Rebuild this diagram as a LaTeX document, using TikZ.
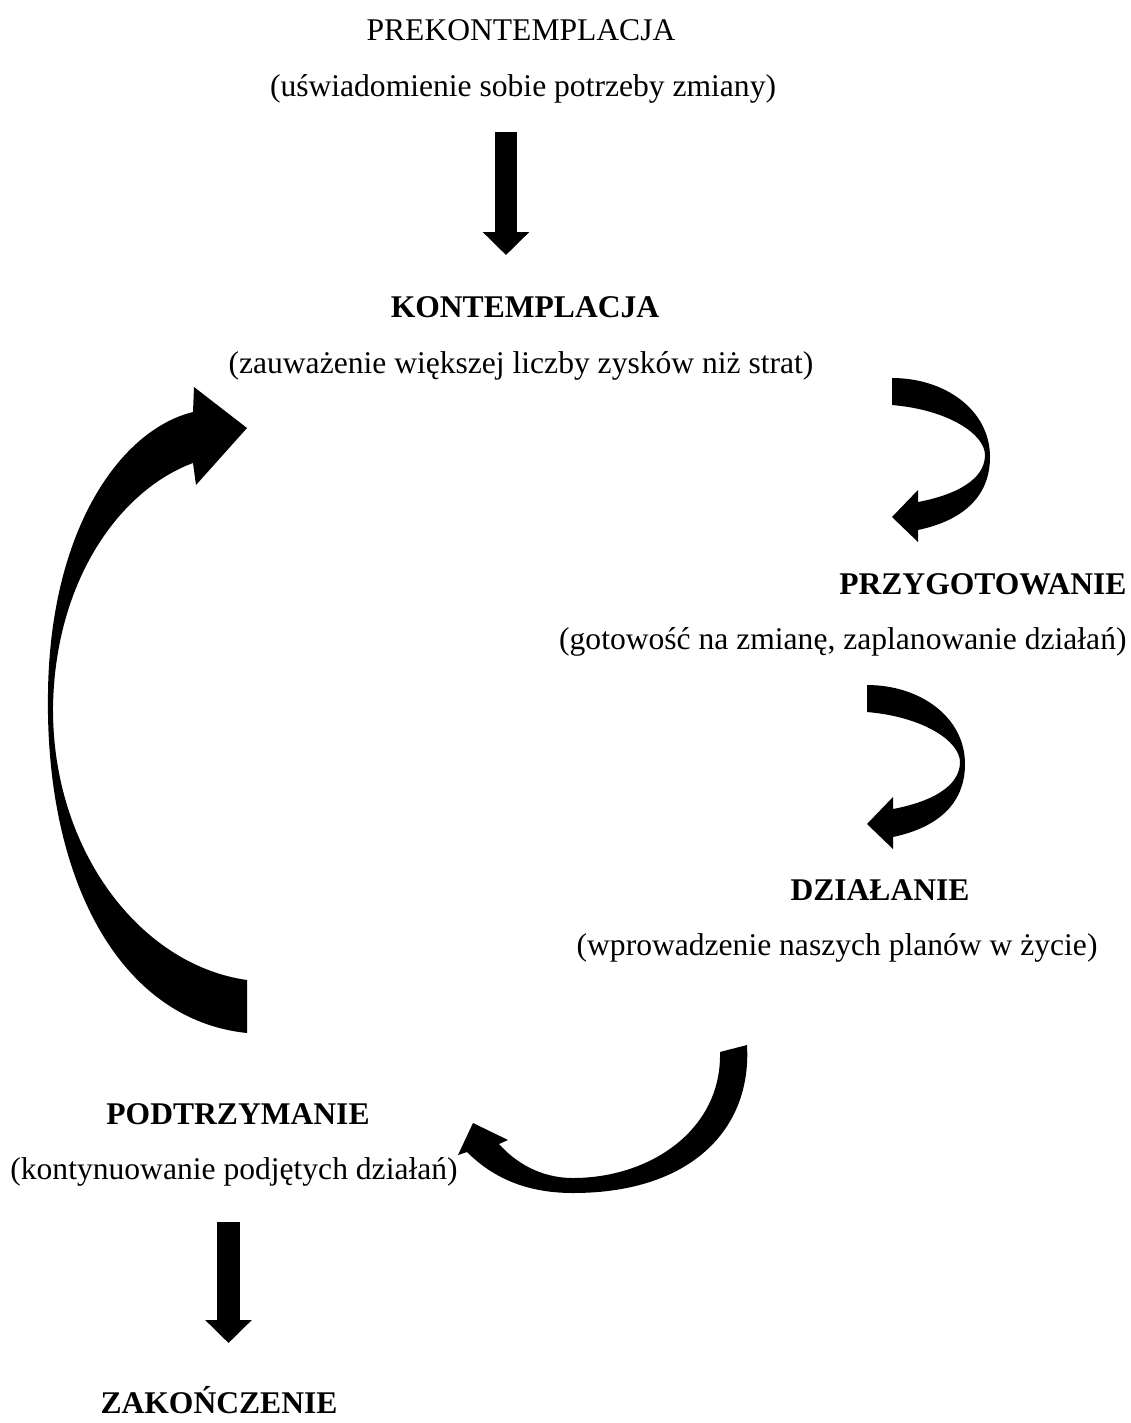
\documentclass[tikz,border=0pt]{standalone}
\usepackage{fontspec}
\setmainfont{Liberation Serif}
\usetikzlibrary{arrows.meta}

\begin{document}
\begin{tikzpicture}[
			x=0.38pt, y=-0.38pt,
			note/.style={
					inner sep=0pt, anchor=base, font=\fontsize{12}{14}\selectfont
				},
			stage/.style={
					note, font=\fontsize{12}{14}\selectfont\bfseries
				},
			blockarrow/.style={fill=black},
			straightarrow/.style={
					line width=8.4pt, -{Triangle[length=8.7pt 0 0, width=17.1pt 0 0]}
				},
			uturn/.pic={
					\fill[blockarrow] (0,0) .. controls (53,0) and (98,32) .. (98,79)
						.. controls (98,117) and (73,142) .. (26,152) -- (26,164) -- (0,139)
						-- (26,112) -- (26,124) .. controls (63,117) and (93,102) .. (93,77)
						.. controls (93,57) and (58,32) .. (0,27) -- cycle;
				}
		]

		\useasboundingbox (0,0) rectangle (1131,1423);

		% Stages of change, top to bottom
		\node[note] (prek) at (521,40) {PREKONTEMPLACJA};
		\node[note] (prekdesc) at (523,96) {(uświadomienie sobie potrzeby zmiany)};

		\node[stage] (kont) at (525,317) {KONTEMPLACJA};
		\node[note] (kontdesc) at (521,373) {(zauważenie większej liczby zysków niż strat)};

		\node[stage, anchor=base east] (przyg) at (1127,594) {PRZYGOTOWANIE};
		\node[note, anchor=base east] (przygdesc) at (1127,649) {(gotowość na zmianę, zaplanowanie działań)};

		\node[stage] (dzial) at (880,900) {DZIAŁANIE};
		\node[note, anchor=base east] (dzialdesc) at (1098,955) {(wprowadzenie naszych planów w życie)};

		\node[stage] (podtrz) at (238,1124) {PODTRZYMANIE};
		\node[note] (podtrzdesc) at (234,1179) {(kontynuowanie podjętych działań)};

		\node[stage] (zak) at (219,1413) {ZAKOŃCZENIE};

		% Straight arrows
		\coordinate (in1) at (506,132);
		\coordinate (out1) at (506,255);
		\draw[straightarrow] (in1) -- (out1);

		\coordinate (in2) at (228.5,1222);
		\coordinate (out2) at (228.5,1343);
		\draw[straightarrow] (in2) -- (out2);

		% Curved arrows on the right
		\pic at (892,378) {uturn};
		\pic at (867,685) {uturn};

		\fill[blockarrow] (720,1052) .. controls (722,1130) and (650,1178) .. (573,1178)
			.. controls (540,1178) and (515,1162) .. (499,1144) -- (508,1140) -- (473,1123)
			-- (458,1155) -- (467,1152) .. controls (495,1180) and (530,1193) .. (573,1193)
			.. controls (690,1193) and (752,1130) .. (747,1045) -- cycle;

		% Big return arrow on the left
		\fill[blockarrow] (247,1033) .. controls (120,1020) and (45,880) .. (48,693)
			.. controls (50,530) and (120,430) .. (193,412) -- (194,387) -- (247,428)
			-- (196,485) -- (193,463) .. controls (120,490) and (55,580) .. (53,707)
			.. controls (52,850) and (140,965) .. (247,980) -- cycle;

	\end{tikzpicture}
\end{document}
